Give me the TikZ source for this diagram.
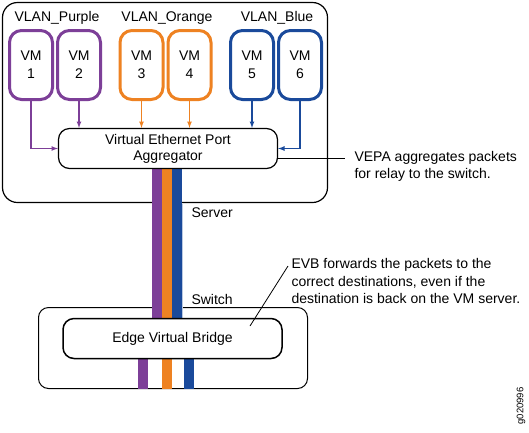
\documentclass[tikz,border=0pt]{standalone}
\usepackage{fontspec}
\setmainfont{Liberation Sans}
\usetikzlibrary{positioning}

\definecolor{vlanpurple}{RGB}{125,63,152}
\definecolor{vlanorange}{RGB}{238,130,34}
\definecolor{vlanblue}{RGB}{26,74,155}

\begin{document}
\begin{tikzpicture}[>=latex, x=1pt, y=-1pt, font=\fontsize{14}{16}\selectfont,
    vm/.style={draw=#1, fill=white, line width=3pt, rounded corners=12pt, minimum width=43pt, minimum height=69pt, align=center, font=\fontsize{14}{18}\selectfont},
    box/.style={draw, fill=white, line width=1.2pt, rounded corners=11pt, align=center},
    feed/.style={->, line width=1.2pt}]
		\useasboundingbox (0,0) rectangle (529,432);

		% 1. Server and switch outlines
		\node[box, rounded corners=15pt, minimum width=325pt, minimum height=200pt] (server) at (165,102.5) {};
		\node[box, line width=1pt, rounded corners=10pt, minimum width=269pt, minimum height=81pt] (switch) at (173,348) {};

		% 2. Colour bars (drawn under the two inner boxes)
		\fill[vlanpurple] (152,160) rectangle (162,330);
		\fill[vlanorange] (162,160) rectangle (172,330);
		\fill[vlanblue] (172,160) rectangle (182,330);
		\fill[vlanblue!30] (182,204) rectangle (183,330);
		% Split bars under the bridge
		\fill[vlanpurple] (138,340) rectangle (148,389);
		\fill[vlanorange] (162,340) rectangle (172,389);
		\fill[vlanblue] (184,340) rectangle (194,389);

		% 3. VLAN names
		\node (purple) at (57,18) {VLAN\_Purple};
		\node (orange) at (167,18) {VLAN\_Orange};
		\node (blue) at (277,18) {VLAN\_Blue};

		% 4. VMs
		\node[vm=vlanpurple] (vm1) at (31,65) {VM\\1};
		\node[vm=vlanpurple] (vm2) at (79,65) {VM\\2};
		\node[vm=vlanorange] (vm3) at (141.5,65) {VM\\3};
		\node[vm=vlanorange] (vm4) at (189.5,65) {VM\\4};
		\node[vm=vlanblue] (vm5) at (252,65) {VM\\5};
		\node[vm=vlanblue] (vm6) at (300,65) {VM\\6};

		% 5. Aggregator and bridge
		\node[box, minimum width=219pt, minimum height=40pt] (vepa) at (168,148.5) {Virtual Ethernet Port\\Aggregator};
		\node[box, line width=1.5pt, minimum width=219pt, minimum height=40pt] (evb) at (172.5,338.5) {Edge Virtual Bridge};

		% 6. VM links into the aggregator
		\draw[feed, vlanpurple] (vm1.south) |- (vepa.west);
		\draw[feed, vlanpurple] (vm2.south) -- (vm2.south |- vepa.north);
		\draw[feed, vlanorange] (vm3.south) -- (vm3.south |- vepa.north);
		\draw[feed, vlanorange] (vm4.south) -- (vm4.south |- vepa.north);
		\draw[feed, vlanblue] (vm5.south) -- (vm5.south |- vepa.north);
		\draw[feed, vlanblue] (vm6.south) |- (vepa.east);

		% 7. Side labels
		\node[anchor=west] (serverlbl) at (188,213) {Server};
		\node[anchor=west] (switchlbl) at (188,299) {Switch};

		% 8. Notes with leader lines
		\node[anchor=west, align=left, font=\fontsize{14}{17}\selectfont] (vepanote) at (351,166.5) {VEPA aggregates packets\\for relay to the switch.};
		\coordinate (vepatap) at (278,158);
		\draw[line width=0.8pt] (vepatap) -- ([xshift=-6pt]vepanote.west |- vepatap);

		\node[anchor=west, align=left, font=\fontsize{14}{17.5}\selectfont] (evbnote) at (288,281) {EVB forwards the packets to the\\correct destinations, even if the\\destination is back on the VM server.};
		\coordinate (evbtap) at (250,326);
		\coordinate (evbtip) at (288,266);
		\draw[line width=0.8pt] (evbtap) -- (evbtip);

		% 9. Figure id
		\node[rotate=90, font=\fontsize{9.5}{10}\selectfont] (figid) at (521,406) {g020996};
	\end{tikzpicture}
\end{document}
